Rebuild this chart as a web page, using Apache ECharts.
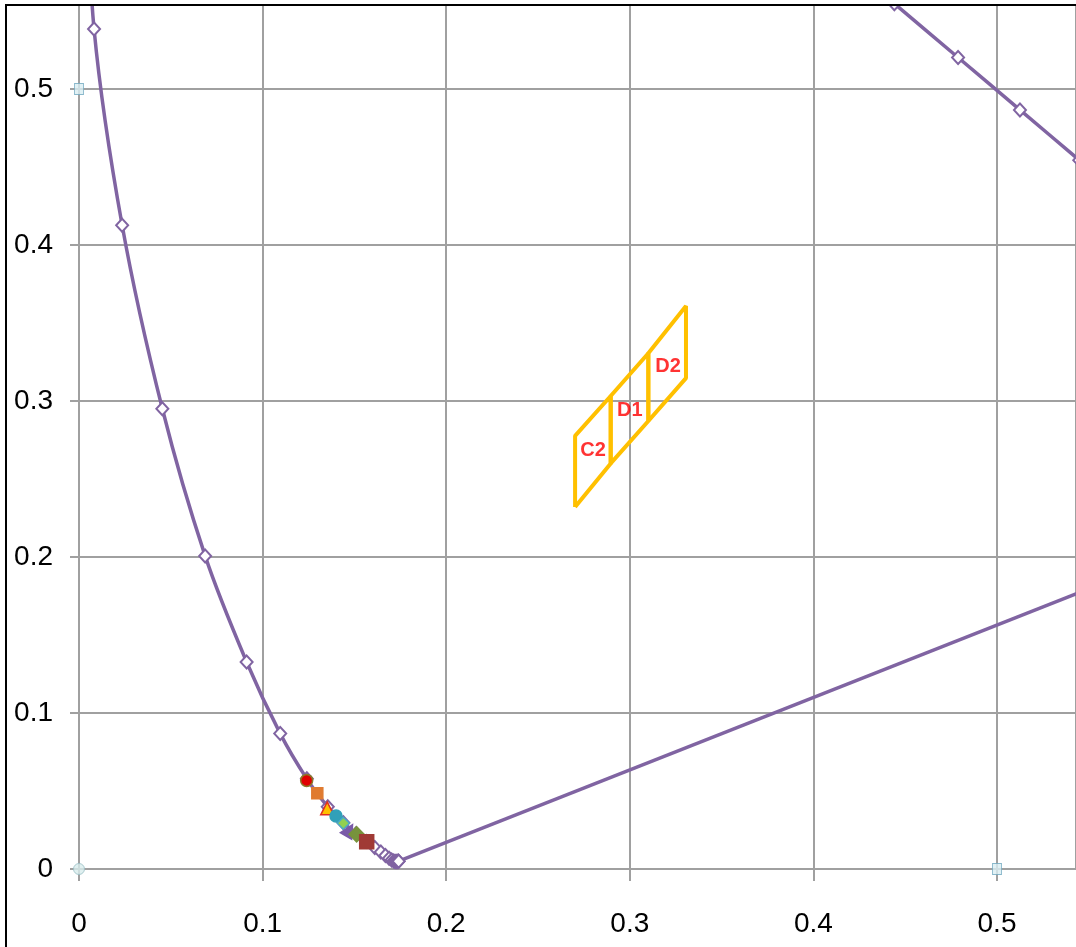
<!DOCTYPE html>
<html><head><meta charset="utf-8">
<script src="https://cdn.jsdelivr.net/npm/echarts@6/dist/echarts.min.js"></script>
<style>html,body{margin:0;padding:0;background:#fff;}#c{width:1076px;height:947px;}</style>
</head><body><div id="c"></div>
<script>
// Spectral locus, left branch (nm 505 -> 380)
const locusLeft = [
  [0.0039,0.6548],[0.0082,0.5384],[0.0235,0.4127],[0.0454,0.2950],[0.0687,0.2007],
  [0.0913,0.1327],[0.1096,0.0868],[0.1241,0.0578],[0.1355,0.0399],[0.1440,0.0297],
  [0.1510,0.0227],[0.1566,0.0177],[0.1611,0.0138],[0.1644,0.0109],[0.1669,0.0086],
  [0.1689,0.0069],[0.1703,0.0058],[0.1714,0.0051],[0.1721,0.0048],[0.1726,0.0048],
  [0.1730,0.0048],[0.1733,0.0048],[0.1736,0.0049],[0.1738,0.0049],[0.1740,0.0050],[0.1741,0.0050]
];
// Spectral locus, right branch (nm 565 -> 595)
const locusRight = [
  [0.4087,0.5896],[0.4441,0.5547],[0.4788,0.5202],[0.5125,0.4866],[0.5448,0.4544],[0.5752,0.4242],[0.6029,0.3965]
];
// Line of purples
const purpleLine = [[0.1741,0.0050],[0.7347,0.2653]];
// Coloured sample points
const samplePts = [
  {name:'p1', xy:[0.1240,0.0568], symbol:'circle',   color:'#E00000', border:'#8A7A2A', size:12},
  {name:'p2', xy:[0.1298,0.0485], symbol:'rect',     color:'#E07B30', border:'#E07B30', size:11},
  {name:'p3', xy:[0.1352,0.0389], symbol:'triangle', color:'#FFC000', border:'#E03020', size:13},
  {name:'p4', xy:[0.1400,0.0340], symbol:'circle',   color:'#31A0B8', border:'#31A0B8', size:12},
  {name:'p5', xy:[0.1440,0.0293], symbol:'diamond',  color:'#92D050', border:'#4BACC6', size:12},
  {name:'p6', xy:[0.1472,0.0248], symbol:'triangle', color:'#7A5AA8', border:'#7A5AA8', size:13},
  {name:'p7', xy:[0.1512,0.0222], symbol:'diamond',  color:'#77933C', border:'#77933C', size:15},
  {name:'p8', xy:[0.1567,0.0175], symbol:'rect',     color:'#A03A35', border:'#A03A35', size:14}
];
// Reference markers on axes
const axisSquares = [[0,0.5],[0.5,0]];
const axisCircles = [[0,0]];
// Bins
const binNames = ['C2','D1','D2'];
const binC2 = [[0.2702,0.2321],[0.2702,0.2776],[0.2896,0.3032],[0.2896,0.2600],[0.2702,0.2321]];
const binD1 = [[0.2896,0.2600],[0.2896,0.3032],[0.3101,0.3306],[0.3101,0.2872],[0.2896,0.2600]];
const binD2 = [[0.3101,0.2872],[0.3101,0.3306],[0.3306,0.3609],[0.3306,0.3147],[0.3101,0.2872]];
const binLabelPos = [[0.2800,0.2680],[0.3000,0.2940],[0.3208,0.3220]];
const xTicks = [0,0.1,0.2,0.3,0.4,0.5];
const yTicks = [0,0.1,0.2,0.3,0.4,0.5];

const purple = '#8064A2';
const gold = '#FFC000';
const series = [];
series.push({type:'line', data:locusLeft, smooth:0.35, symbol:'diamond', symbolSize:[12,13], clip:false,
  itemStyle:{color:'#fff', borderColor:purple, borderWidth:2}, lineStyle:{color:purple, width:3.5}, z:3});
series.push({type:'line', data:locusRight, smooth:0.35, symbol:'diamond', symbolSize:[12,13], clip:false,
  itemStyle:{color:'#fff', borderColor:purple, borderWidth:2}, lineStyle:{color:purple, width:3.5}, z:3});
series.push({type:'line', data:purpleLine, symbol:'none', lineStyle:{color:purple, width:3.5}, z:2});
[binC2,binD1,binD2].forEach(b=>series.push({type:'line', data:b, symbol:'none', lineStyle:{color:gold, width:4}, z:4}));
series.push({type:'scatter', data:binLabelPos.map((p,i)=>({value:p, name:binNames[i]})), symbolSize:0,
  label:{show:true, position:'inside', formatter:p=>p.name, color:'#FF0000', fontWeight:'bold', fontSize:20, fontFamily:'Liberation Sans'}, z:5});
samplePts.forEach(p=>series.push({type:'scatter', data:[p.xy], symbol:p.symbol, symbolSize:p.size,
  symbolRotate: p.name==='p6'? -30 : 0,
  itemStyle:{color:p.color, borderColor:p.border, borderWidth:1.5, opacity:1}, z:6}));
series.push({type:'scatter', data:axisSquares, symbol:'rect', symbolSize:[9,11], clip:false,
  itemStyle:{color:'#DAEEF3', borderColor:'#6FA8BF', borderWidth:1}, z:6});
series.push({type:'scatter', data:axisCircles, symbol:'circle', symbolSize:11, clip:false,
  itemStyle:{color:'#D8ECEC', borderColor:'#9ABFC6', borderWidth:1}, z:6});

const axisFont = {fontFamily:'Liberation Sans', fontSize:28, color:'#000'};
const chart = echarts.init(document.getElementById('c'), null, {renderer:'canvas'});
chart.setOption({
  animation:false,
  backgroundColor:'#fff',
  grid:{left:79, top:5, width:997, height:864, containLabel:false},
  xAxis:{type:'value', min:0, max:997/1836, interval:0.1,
    axisLine:{show:true, onZero:false, lineStyle:{color:'#A0A0A0', width:2}},
    axisTick:{show:true, length:12, lineStyle:{color:'#A0A0A0', width:2}},
    splitLine:{show:true, lineStyle:{color:'#A0A0A0', width:2}},
    axisLabel:{...axisFont, margin:41, showMaxLabel:false, formatter:v=>{const t=xTicks.find(k=>Math.abs(k-v)<1e-6);return t===undefined?'':String(t);}}},
  yAxis:{type:'value', min:0, max:864/1560, interval:0.1,
    axisLine:{show:true, onZero:false, lineStyle:{color:'#A0A0A0', width:2}},
    axisTick:{show:true, length:9, lineStyle:{color:'#A0A0A0', width:2}},
    splitLine:{show:true, lineStyle:{color:'#A0A0A0', width:2}},
    axisLabel:{...axisFont, margin:26, showMaxLabel:false, formatter:v=>{const t=yTicks.find(k=>Math.abs(k-v)<1e-6);return t===undefined?'':String(t);}}},
  graphic:[
    {type:'rect', shape:{x:0,y:0,width:1076,height:5}, style:{fill:'#fff'}, z:99, silent:true},
    {type:'rect', shape:{x:6,y:5,width:1200,height:1200}, style:{fill:'none', stroke:'#000', lineWidth:2}, z:100, silent:true}
  ],
  series
});
</script></body></html>
